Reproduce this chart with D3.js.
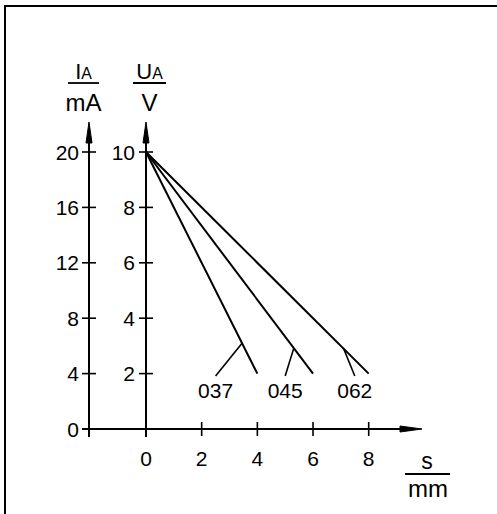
<!DOCTYPE html>
<html><head><meta charset="utf-8">
<script src="https://cdn.jsdelivr.net/npm/d3@7"></script>
<style>body{margin:0;background:#fff}svg{display:block}text{font-family:"Liberation Sans",Arial,sans-serif;fill:#000}</style>
</head><body>
<script>
const sTicks = [0, 2, 4, 6, 8];
const uTicks = [2, 4, 6, 8, 10];
const iTicks = [0, 4, 8, 12, 16, 20];
const curveNames = ["037", "045", "062"];
const startU = [10, 10, 10];
const endS = [4, 6, 8];
const endU = [2, 2, 2];
const leaderU = [3.1, 2.92, 2.9];
const labelS = [2.5, 5.0, 7.5];

const W = 497, H = 514;
const svg = d3.select("body").append("svg").attr("width", W).attr("height", H);

// frame
svg.append("rect").attr("x", 5).attr("y", 6).attr("width", 520).attr("height", 540)
  .attr("fill", "none").attr("stroke", "#000").attr("stroke-width", 2);

const x = d3.scaleLinear().domain([0, 8]).range([146, 368.7]);
const yU = d3.scaleLinear().domain([0, 10]).range([429, 152]);
const yI = d3.scaleLinear().domain([0, 20]).range([429, 152]);
const xI = 89, xU = x(0);
const tk = 7;
const FS = 21;

const g = svg.append("g");
// axes lines
g.append("line").attr("x1", 82).attr("x2", 404).attr("y1", yU(0)).attr("y2", yU(0)).attr("stroke", "#000").attr("stroke-width", 2);
g.append("line").attr("x1", xI).attr("x2", xI).attr("y1", 437).attr("y2", 140).attr("stroke", "#000").attr("stroke-width", 2);
g.append("line").attr("x1", xU).attr("x2", xU).attr("y1", 437).attr("y2", 140).attr("stroke", "#000").attr("stroke-width", 2);
// arrowheads
const arrow = (pts) => g.append("path").attr("d", d3.line()(pts) + "Z").attr("fill", "#000").attr("stroke", "#000").attr("stroke-width", 1);
arrow([[xI, 122], [xI - 3, 143], [xI + 3, 143]]);
arrow([[xU, 122], [xU - 3, 143], [xU + 3, 143]]);
arrow([[422, yU(0)], [400, yU(0) - 3], [400, yU(0) + 3]]);

// ticks I axis
g.selectAll(".ti").data(iTicks).join("line")
  .attr("x1", xI - tk).attr("x2", xI + tk).attr("y1", d => yI(d)).attr("y2", d => yI(d))
  .attr("stroke", "#000").attr("stroke-width", 1.6);
g.selectAll(".li").data(iTicks).join("text")
  .attr("x", xI - 10).attr("y", d => yI(d)).attr("dy", "0.36em").attr("text-anchor", "end")
  .attr("font-size", FS).text(d => d);
// ticks U axis
g.selectAll(".tu").data(uTicks).join("line")
  .attr("x1", xU - tk).attr("x2", xU + tk).attr("y1", d => yU(d)).attr("y2", d => yU(d))
  .attr("stroke", "#000").attr("stroke-width", 1.6);
g.selectAll(".lu").data(uTicks).join("text")
  .attr("x", xU - 11).attr("y", d => yU(d)).attr("dy", "0.36em").attr("text-anchor", "end")
  .attr("font-size", FS).text(d => d);
// ticks s axis
g.selectAll(".ts").data(sTicks.filter(d => d > 0)).join("line")
  .attr("x1", d => x(d)).attr("x2", d => x(d)).attr("y1", yU(0) - tk).attr("y2", yU(0) + tk)
  .attr("stroke", "#000").attr("stroke-width", 1.6);
g.selectAll(".ls").data(sTicks).join("text")
  .attr("x", d => x(d)).attr("y", 466).attr("text-anchor", "middle")
  .attr("font-size", FS).text(d => d);

// curves
const curves = curveNames.map((n, i) => ({ n, s0: 0, u0: startU[i], s1: endS[i], u1: endU[i], lu: leaderU[i], ls: labelS[i] }));
g.selectAll(".c").data(curves).join("line")
  .attr("x1", d => x(d.s0)).attr("y1", d => yU(d.u0)).attr("x2", d => x(d.s1)).attr("y2", d => yU(d.u1))
  .attr("stroke", "#000").attr("stroke-width", 2);
// leaders
const sAt = d => d.s0 + (d.s1 - d.s0) * (d.u0 - d.lu) / (d.u0 - d.u1);
g.selectAll(".ld").data(curves).join("line")
  .attr("x1", d => x(d.ls)).attr("y1", 376).attr("x2", d => x(sAt(d))).attr("y2", d => yU(d.lu))
  .attr("stroke", "#000").attr("stroke-width", 1.6);
g.selectAll(".cl").data(curves).join("text")
  .attr("x", d => x(d.ls)).attr("y", 398).attr("text-anchor", "middle")
  .attr("font-size", FS).text(d => d.n);

// unit labels
function frac(cx, numMain, numSub, den, numFs, denFs, lineW) {
  const t = g.append("text").attr("x", cx).attr("y", 79).attr("text-anchor", "middle").attr("font-size", numFs);
  t.append("tspan").text(numMain);
  if (numSub) t.append("tspan").attr("font-size", numFs * 0.72).text(numSub);
  g.append("line").attr("x1", cx - lineW / 2).attr("x2", cx + lineW / 2).attr("y1", 83).attr("y2", 83)
    .attr("stroke", "#000").attr("stroke-width", 1.8);
  g.append("text").attr("x", cx).attr("y", 111).attr("text-anchor", "middle").attr("font-size", denFs).text(den);
}
frac(83.5, "I", "A", "mA", 22, 24, 31);
frac(149.5, "U", "A", "V", 22, 24, 33);

// s/mm
g.append("text").attr("x", 427).attr("y", 469).attr("text-anchor", "middle").attr("font-size", 23).text("s");
g.append("line").attr("x1", 405).attr("x2", 450).attr("y1", 474).attr("y2", 474).attr("stroke", "#000").attr("stroke-width", 1.8);
g.append("text").attr("x", 428).attr("y", 497).attr("text-anchor", "middle").attr("font-size", 24).text("mm");
</script>
</body></html>
